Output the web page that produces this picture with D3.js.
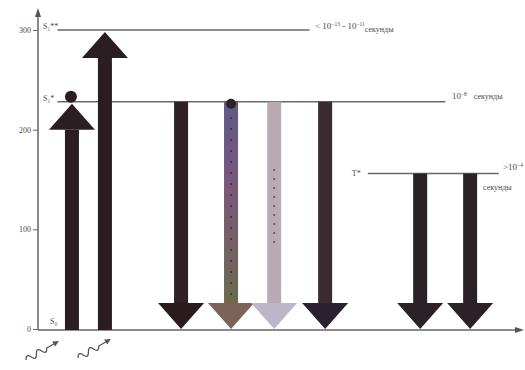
<!DOCTYPE html>
<html>
<head>
<meta charset="utf-8">
<script src="https://cdn.jsdelivr.net/npm/d3@7"></script>
<style>
body { margin: 0; background: #fff; }
svg text { font-family: "Liberation Serif", serif; fill: #4a4a4a; }
</style>
</head>
<body>
<svg width="525" height="370"></svg>
<script>
// energy levels
var levelNames = ["S\u2081**", "S\u2081*", "T*"];
var levelValues = [300, 228, 156];
var levelFrom = [4, 4, 68];   // x units where each level line starts
var levelTo = [56, 84, 95];

// transitions: x position (units), start level, end level
var arrowX = [7, 13.8, 29.5, 39.8, 48.7, 59.2, 78.8, 89.1];
var arrowFrom = [0, 0, 228, 228, 228, 228, 156, 156];
var arrowTo = [228, 300, 0, 0, 0, 0, 0, 0];
var shaftColors = ["#2b1e22", "#2b1e22", "#2e2226", "url(#fluo)", "#b9aab3", "#3a2a32", "#2a2226", "#2a2226"];
var headColors = ["#2b1e22", "#2b1e22", "#2a1c1e", "#7d6257", "#bcb7c7", "#2a2230", "#2a2226", "#2a2226"];

var yTicks = [0, 100, 200, 300];

var svg = d3.select("svg");
var x = d3.scaleLinear().domain([0, 100]).range([38, 523]);
var y = d3.scaleLinear().domain([0, 300]).range([329, 30]);

var defs = svg.append("defs");
var grad = defs.append("linearGradient").attr("id", "fluo")
	.attr("x1", 0).attr("y1", 0).attr("x2", 0).attr("y2", 1);
grad.append("stop").attr("offset", "0%").attr("stop-color", "#5f5a8c");
grad.append("stop").attr("offset", "45%").attr("stop-color", "#7a5878");
grad.append("stop").attr("offset", "100%").attr("stop-color", "#6c6a4e");

// axes
svg.append("line").attr("x1", x(0)).attr("x2", x(0)).attr("y1", 14).attr("y2", y(0) + 1)
	.attr("stroke", "#666").attr("stroke-width", 1.5);
svg.append("path").attr("d", "M" + x(0) + ",8 l-3,9 l6,0 z").attr("fill", "#555");
svg.append("line").attr("x1", x(0)).attr("x2", 517).attr("y1", y(0) + 1).attr("y2", y(0) + 1)
	.attr("stroke", "#666").attr("stroke-width", 1.5);
svg.append("path").attr("d", "M524," + (y(0) + 1) + " l-9,-3 l0,6 z").attr("fill", "#555");

var yAxis = svg.append("g").attr("transform", "translate(" + x(0) + ",0)")
	.call(d3.axisLeft(y).tickValues(yTicks).tickSize(5).tickPadding(2));
yAxis.select(".domain").remove();
yAxis.selectAll("line").attr("stroke", "#666");
yAxis.selectAll("text").style("font-family", "Liberation Serif, serif").style("font-size", "8px").attr("fill", "#4a4a4a");

// level lines
levelValues.forEach(function(v, i) {
	svg.append("line")
		.attr("x1", x(levelFrom[i])).attr("x2", x(levelTo[i]))
		.attr("y1", y(v)).attr("y2", y(v))
		.attr("stroke", "#6a6a6a").attr("stroke-width", 1.5);
});
svg.append("text").attr("x", 43).attr("y", y(300) - 1).attr("font-size", 8).text(levelNames[0].slice(0, 3) + "*");
svg.append("text").attr("x", 43).attr("y", y(228) - 1).attr("font-size", 8).text(levelNames[1]);
svg.append("text").attr("x", x(levelFrom[2]) - 16).attr("y", y(156) + 2).attr("font-size", 8).text(levelNames[2]);
svg.append("text").attr("x", 50).attr("y", y(0) - 5).attr("font-size", 8).text("S\u2080");

// lifetime labels
var t1 = svg.append("text").attr("x", 315).attr("y", 29).attr("font-size", 9);
t1.append("tspan").text("< 10");
t1.append("tspan").attr("dy", -3).attr("font-size", 5.5).text("\u221213");
t1.append("tspan").attr("dy", 3).text(" - 10");
t1.append("tspan").attr("dy", -3).attr("font-size", 5.5).text("\u221211");
t1.append("tspan").attr("dy", 6).attr("font-size", 8).text("секунды");

var t2 = svg.append("text").attr("x", 452).attr("y", 99).attr("font-size", 9);
t2.append("tspan").text("10");
t2.append("tspan").attr("dy", -3).attr("font-size", 5.5).text("\u22128");
t2.append("tspan").attr("dy", 3).attr("dx", 7).attr("font-size", 8).text("секунды");

var t3 = svg.append("text").attr("x", 503).attr("y", 170).attr("font-size", 9);
t3.append("tspan").text(">10");
t3.append("tspan").attr("dy", -3).attr("font-size", 5.5).text("\u22124");
svg.append("text").attr("x", 483).attr("y", 190).attr("font-size", 8).text("секунды");

// arrows
var shaftW = 14, headW = 46, headH = 26;
arrowX.forEach(function(ax, i) {
	var cx = x(ax);
	var y0 = y(arrowFrom[i]), y1 = y(arrowTo[i]);
	var up = y1 < y0;
	var headBase = up ? y1 + headH + 2 : y1 - headH;
	var tip = up ? y1 + 2 : y1;
	var shaftTop = up ? headBase : y0;
	var shaftBot = up ? y0 + 1 : headBase;
	svg.append("rect")
		.attr("x", cx - shaftW / 2).attr("y", shaftTop)
		.attr("width", shaftW).attr("height", shaftBot - shaftTop)
		.attr("fill", shaftColors[i]);
	svg.append("path")
		.attr("d", "M" + (cx - headW / 2) + "," + headBase + " L" + (cx + headW / 2) + "," + headBase + " L" + cx + "," + tip + " Z")
		.attr("fill", headColors[i]);
});

// dots inside emission arrows
d3.range(118, 295, 11).forEach(function(dy) {
	svg.append("circle").attr("cx", x(arrowX[3])).attr("cy", dy).attr("r", 1).attr("fill", "#3a2a40");
});
d3.range(170, 245, 9).forEach(function(dy) {
	svg.append("circle").attr("cx", x(arrowX[4])).attr("cy", dy).attr("r", 1).attr("fill", "#5a4a5a");
});

// circles at the excited level
svg.append("circle").attr("cx", x(arrowX[0]) - 1).attr("cy", y(228) - 5).attr("r", 6).attr("fill", "#2b1e22");
svg.append("circle").attr("cx", x(arrowX[3])).attr("cy", y(228) + 2).attr("r", 5).attr("fill", "#2e2226");

// photons h nu
[[26, 360], [78, 358]].forEach(function(p) {
	var g = svg.append("g").attr("transform", "translate(" + p[0] + "," + p[1] + ") rotate(-30)");
	g.append("path")
		.attr("d", "M0,0 q3,-6 6,0 t6,0 t6,0 t6,0 l10,0")
		.attr("fill", "none").attr("stroke", "#555").attr("stroke-width", 1.3);
	g.append("path").attr("d", "M38,0 l-6,-3 l0,6 z").attr("fill", "#555");
});
</script>
</body>
</html>
